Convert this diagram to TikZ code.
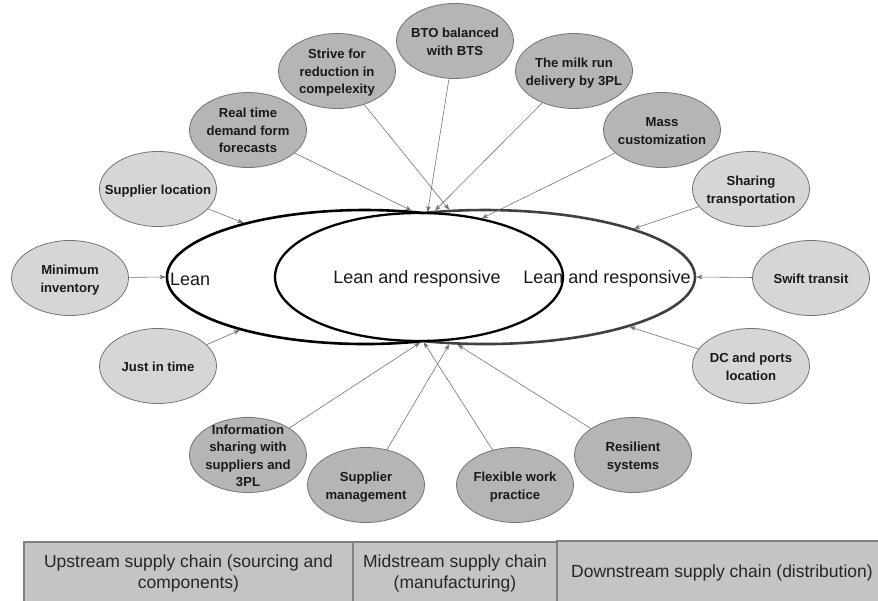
\documentclass[tikz,border=0pt]{standalone}
\usepackage{fontspec}
\setmainfont{Liberation Sans}
\usetikzlibrary{arrows.meta,shapes,calc,positioning}
\definecolor{palegray}{HTML}{D6D6D6}
\definecolor{midgray}{HTML}{B5B5B5}
\definecolor{boxgray}{HTML}{C4C4C4}
\tikzset{
link/.style={-{Stealth[length=6pt,width=4.5pt,inset=1.5pt]},draw=black!55,line width=0.6pt},
bubble/.style={ellipse,draw=black!55,line width=0.8pt,inner sep=0pt,minimum width=117pt,minimum height=75pt,text=black!90,font=\fontsize{13.1}{17.5}\selectfont\bfseries},
palebubble/.style={bubble,fill=palegray},
darkbubble/.style={bubble,fill=midgray},
ring/.style={ellipse,inner sep=0pt,line width=2.6pt},
rim/.style={line width=2.6pt},
tag/.style={font=\fontsize{18}{21}\selectfont,text=black!90,inner sep=0pt},
band/.style={rectangle,draw=black!50,line width=1.2pt,fill=boxgray,inner sep=0pt,align=center,font=\fontsize{17.5}{21}\selectfont,text=black!85}
}
\newcommand{\ovaltext}[1]{\makebox[0pt]{\smash{\raisebox{-5pt}{\begin{tabular}{@{}c@{}}#1\end{tabular}}}}}

\begin{document}
\begin{tikzpicture}[x=1pt,y=-1pt]
	\useasboundingbox (0,0) rectangle (878,601);
	% strategies
	\node[ring,minimum width=420pt,minimum height=134pt] (resp) at (485,277) {};
	\node[ring,minimum width=396pt,minimum height=134pt] (lean) at (365,277) {};
	\draw[rim,black!75] ($(resp.center)+(-61.8,-64)$) arc[start angle=107.1,end angle=-107.1,x radius=210pt,y radius=67pt];
	\draw[rim,black] ($(lean.center)+(58.2,-64)$) arc[start angle=72.9,end angle=287.1,x radius=198pt,y radius=67pt];
	\node[ring,draw=black,line width=2.3pt,minimum width=288pt,minimum height=128pt] (both) at (419,277) {};
	\node[tag,anchor=west] (leantxt) at (170,279) {Lean};
	\node[tag] (bothtxt) at (417,279) {Lean and responsive};
	\node[tag] (resptxt) at (607,279) {Lean and responsive};

	% practices
	\node[palebubble] (minv) at (70,278) {\ovaltext{Minimum\\inventory}};
	\node[palebubble] (sloc) at (158,189) {\ovaltext{Supplier location}};
	\node[darkbubble] (rtime) at (248,130) {\ovaltext{Real time\\demand form\\forecasts}};
	\node[darkbubble] (strive) at (337,71) {\ovaltext{Strive for\\reduction in\\compelexity}};
	\node[darkbubble] (bto) at (455,41) {\ovaltext{BTO balanced\\with BTS}};
	\node[darkbubble] (milk) at (574,71) {\ovaltext{The milk run\\delivery by 3PL}};
	\node[darkbubble] (mass) at (662,130) {\ovaltext{Mass\\customization}};
	\node[palebubble] (share) at (751,189) {\ovaltext{Sharing\\transportation}};
	\node[palebubble] (swift) at (811,278) {\ovaltext{Swift transit}};
	\node[palebubble] (dcport) at (751,366) {\ovaltext{DC and ports\\location}};
	\node[darkbubble] (resil) at (633,455) {\ovaltext{Resilient\\systems}};
	\node[darkbubble] (flex) at (515,485) {\ovaltext{Flexible work\\practice}};
	\node[darkbubble] (smgmt) at (366,485) {\ovaltext{Supplier\\management}};
	\node[darkbubble] (info) at (248,455) {\ovaltext{Information\\sharing with\\suppliers and\\3PL}};
	\node[palebubble] (jit) at (158,366) {\ovaltext{Just in time}};

	% arrows
	\draw[link] (minv) -- (lean.180);
	\draw[link] (sloc) -- (lean.156.6);
	\draw[link] (jit) -- (lean.203.4);
	\draw[link] (rtime) -- (lean.55.9);
	\draw[link] (strive) -- (resp.118.7);
	\draw[link] (bto) -- (lean.46.8);
	\draw[link] (milk) -- (resp.127.8);
	\draw[link] (mass) -- (both.43.6);
	\draw[link] (share) -- (resp.18.3);
	\draw[link] (swift) -- (resp.0);
	\draw[link] (dcport) -- (resp.341.6);
	\draw[link] (info) -- (lean.310.8);
	\draw[link] (flex) -- (lean.312.8);
	\draw[link] (smgmt) -- (resp.242.7);
	\draw[link] (resil) -- (resp.248.1);

	% supply chain stages
	\node[band,minimum width=329pt,minimum height=62pt] (upstream) at (188.5,573) {Upstream supply chain (sourcing and\\components)};
	\node[band,minimum width=204pt,minimum height=62pt] (midstream) at (455,573) {Midstream supply chain\\(manufacturing)};
	\node[band,minimum width=330pt,minimum height=64pt] (downstream) at (722,573) {Downstream supply chain (distribution)};
\end{tikzpicture}
\end{document}
